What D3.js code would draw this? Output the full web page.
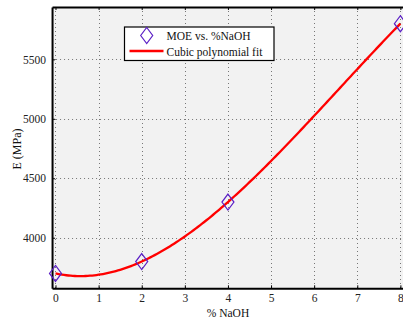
<!DOCTYPE html>
<html><head><meta charset="utf-8">
<script src="https://cdn.jsdelivr.net/npm/d3@7"></script>
<style>body{margin:0;background:#fff}svg{display:block}text{font-family:'Liberation Serif','DejaVu Serif',serif}</style>
</head><body>
<svg id="c" width="403" height="322"></svg>
<script>
const naoh = [0, 2, 4, 8];
const moe = [3700, 3800, 4300, 5800];
// cubic polynomial fit coefficients (a + b x + c x^2 + d x^3)
const fitCoef = [3700, -79.167, 71.875, -3.6458];
const xTicks = [0, 1, 2, 3, 4, 5, 6, 7, 8];
const yTicks = [4000, 4500, 5000, 5500];
const legendLabels = ["MOE vs. %NaOH", "Cubic polynomial fit"];

const svg = d3.select("#c");
const font = "'Liberation Serif','DejaVu Serif',serif";
const x = d3.scaleLinear().domain([-0.08, 8.2]).range([52.05, 409]);
const y = d3.scaleLinear().domain([3575, 5940]).range([288.3, 7]);
const L = x(-0.08), R = x(8.2), T = y(5940), B = y(3575);

svg.append("rect").attr("x", L).attr("y", T).attr("width", R - L).attr("height", B - T).attr("fill", "#f2f2f2");

const grid = svg.append("g").attr("stroke", "#777").attr("stroke-width", 1).attr("stroke-dasharray", "1,3");
grid.selectAll(".gx").data(xTicks).join("line")
  .attr("x1", d => Math.round(x(d)) + 0.5).attr("x2", d => Math.round(x(d)) + 0.5).attr("y1", T).attr("y2", B);
grid.selectAll(".gy").data(yTicks).join("line")
  .attr("y1", d => Math.round(y(d)) + 0.5).attr("y2", d => Math.round(y(d)) + 0.5).attr("x1", L).attr("x2", R);

// axes
const xAxis = svg.append("g").attr("transform", `translate(0,${B})`)
  .call(d3.axisBottom(x).tickValues(xTicks).tickSizeInner(-3).tickSizeOuter(0).tickPadding(6).tickFormat(d3.format("d")));
const xAxisTop = svg.append("g").attr("transform", `translate(0,${T})`)
  .call(d3.axisTop(x).tickValues(xTicks).tickSizeInner(-3).tickSizeOuter(0).tickFormat(""));
const yAxis = svg.append("g").attr("transform", `translate(${L},0)`)
  .call(d3.axisLeft(y).tickValues(yTicks).tickSizeInner(-3).tickSizeOuter(0).tickPadding(6).tickFormat(d3.format("d")));
[xAxis, xAxisTop, yAxis].forEach(g => {
  g.attr("font-family", font).attr("font-size", 11.5);
  g.select(".domain").attr("stroke", "#000").attr("stroke-width", 2);
  g.selectAll(".tick line").attr("stroke", "#000").attr("stroke-width", 1);
  g.selectAll(".tick text").attr("font-family", font).attr("font-size", 11.5).attr("fill", "#222");
});

// fit curve
const fitPts = d3.range(0, 8.0001, 0.05).map(v => [v, fitCoef[0] + fitCoef[1]*v + fitCoef[2]*v*v + fitCoef[3]*v*v*v]);
svg.append("path").datum(fitPts)
  .attr("d", d3.line().x(d => x(d[0])).y(d => y(d[1])))
  .attr("fill", "none").attr("stroke", "#ff0000").attr("stroke-width", 2.3);

// markers
const diamond = (cx, cy) => `M${cx},${cy-8}L${cx+6},${cy}L${cx},${cy+8}L${cx-6},${cy}Z`;
svg.selectAll(".pt").data(naoh.map((v, i) => [v, moe[i]])).join("path")
  .attr("d", d => diamond(x(d[0]), y(d[1])))
  .attr("fill", "none").attr("stroke", "#5b1fc6").attr("stroke-width", 1.2);

// legend
const lg = svg.append("g");
lg.append("rect").attr("x", 124.5).attr("y", 27).attr("width", 149.5).attr("height", 33.5)
  .attr("fill", "#fff").attr("stroke", "#000").attr("stroke-width", 1.2);
lg.append("path").attr("d", diamond(146.7, 35.5)).attr("fill", "none").attr("stroke", "#5b1fc6").attr("stroke-width", 1.2);
lg.append("line").attr("x1", 129.5).attr("x2", 163.5).attr("y1", 51).attr("y2", 51).attr("stroke", "#ff0000").attr("stroke-width", 2.3);
lg.selectAll("text").data(legendLabels).join("text")
  .attr("x", 166.5).attr("y", (d, i) => 40 + i * 15.5)
  .attr("font-family", font).attr("font-size", 11.5).attr("fill", "#111").text(d => d);

// axis titles
svg.append("text").attr("x", 228).attr("y", 317).attr("text-anchor", "middle")
  .attr("font-family", font).attr("font-size", 11.5).attr("fill", "#111").text("% NaOH");
svg.append("text").attr("transform", "translate(21,149) rotate(-90)").attr("text-anchor", "middle")
  .attr("font-family", font).attr("font-size", 12).attr("fill", "#111").text("E (MPa)");
</script>
</body></html>
